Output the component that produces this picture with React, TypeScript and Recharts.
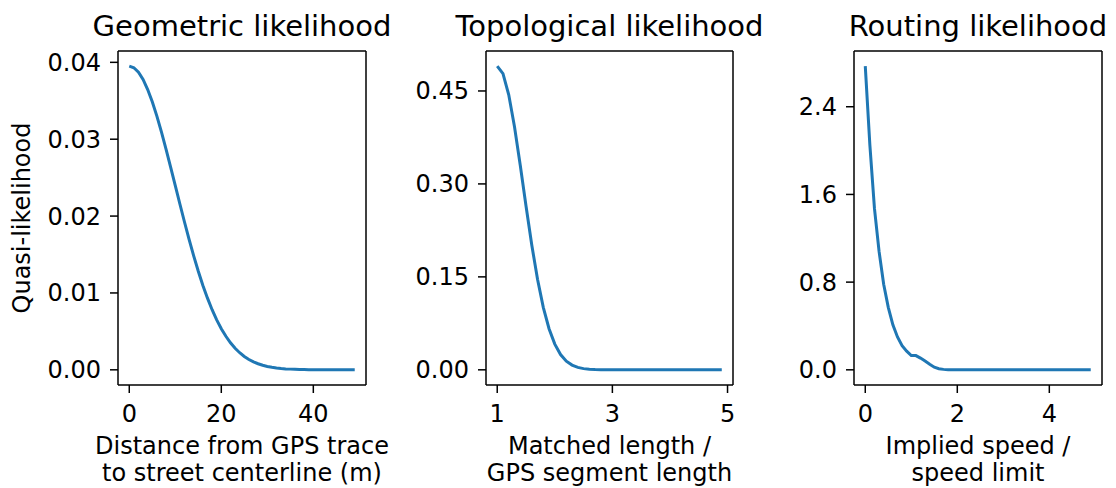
import { Line, LineChart, ReferenceLine, XAxis, YAxis } from "recharts";

// geometric: distance (m) 0..49
const geoX = Array.from({ length: 50 }, (_, i) => i);
const geoY = [
  0.0395, 0.0393, 0.03872, 0.03777, 0.03646, 0.03486, 0.033, 0.03092, 0.02869,
  0.02635, 0.02396, 0.02157, 0.01923, 0.01697, 0.01483, 0.01282, 0.01098,
  0.00932, 0.00782, 0.0065, 0.00535, 0.00436, 0.00351, 0.0028, 0.00222,
  0.00173, 0.00134, 0.00103, 0.00079, 0.00059, 0.00044, 0.00033, 0.00024,
  0.00017, 0.00012, 0.00009, 0.00006, 0.00004, 0.00003, 0.00002, 0.00001,
  0.00001, 0, 0, 0, 0, 0, 0, 0, 0,
];

// topological: matched / gps length, 1.0..4.9
const topoX = [
  1.0, 1.1, 1.2, 1.3, 1.4, 1.5, 1.6, 1.7, 1.8, 1.9, 2.0, 2.1, 2.2, 2.3, 2.4,
  2.5, 2.6, 2.7, 2.8, 2.9, 3.0, 3.1, 3.2, 3.3, 3.4, 3.5, 3.6, 3.7, 3.8, 3.9,
  4.0, 4.1, 4.2, 4.3, 4.4, 4.5, 4.6, 4.7, 4.8, 4.9,
];
const topoY = [
  0.49, 0.478, 0.4439, 0.3923, 0.3301, 0.2643, 0.2014, 0.1461, 0.1009, 0.0663,
  0.0415, 0.0247, 0.014, 0.0076, 0.0039, 0.0019, 0.0009, 0.0004, 0.0002,
  0.0001, 0, 0, 0, 0, 0, 0, 0, 0, 0, 0, 0, 0, 0, 0, 0, 0, 0, 0, 0, 0,
];

// routing: implied speed / limit, 0.0..4.9
const routeX = [
  0.0, 0.1, 0.2, 0.3, 0.4, 0.5, 0.6, 0.7, 0.8, 0.9, 1.0, 1.1, 1.2, 1.3, 1.4,
  1.5, 1.6, 1.7, 1.8, 1.9, 2.0, 2.1, 2.2, 2.3, 2.4, 2.5, 2.6, 2.7, 2.8, 2.9,
  3.0, 3.1, 3.2, 3.3, 3.4, 3.5, 3.6, 3.7, 3.8, 3.9, 4.0, 4.1, 4.2, 4.3, 4.4,
  4.5, 4.6, 4.7, 4.8, 4.9,
];
const routeY = [
  2.77, 2.05, 1.47, 1.08, 0.78, 0.57, 0.41, 0.3, 0.22, 0.17, 0.13, 0.13, 0.107,
  0.08, 0.05, 0.024, 0.01, 0.004, 0.001, 0, 0, 0, 0, 0, 0, 0, 0, 0, 0, 0, 0,
  0, 0, 0, 0, 0, 0, 0, 0, 0, 0, 0, 0, 0, 0, 0, 0, 0, 0, 0,
];

const titles = ["Geometric likelihood", "Topological likelihood", "Routing likelihood"];
const xLabels = [
  ["Distance from GPS trace", "to street centerline (m)"],
  ["Matched length /", "GPS segment length"],
  ["Implied speed /", "speed limit"],
];
const yLabel = "Quasi-likelihood";

const xTicks = [
  [0, 20, 40],
  [1, 3, 5],
  [0, 2, 4],
];
const yTicks = [
  [0, 0.01, 0.02, 0.03, 0.04],
  [0, 0.15, 0.3, 0.45],
  [0, 0.8, 1.6, 2.4],
];
const yDecimals = [2, 2, 1];

const FONT = "DejaVu Sans";
const BLUE = "#1f77b4";
const FS = 24;
const TITLE_FS = 29;

// matplotlib-like 5% autoscale margin
function pad(vals: number[]): [number, number] {
  const lo = Math.min(...vals);
  const hi = Math.max(...vals);
  const m = (hi - lo) * 0.05;
  return [lo - m, hi + m];
}

const panels = [
  { left: 0, width: 380, yw: 118, right: 14, xs: geoX, ys: geoY },
  { left: 380, width: 380, yw: 106, right: 27, xs: topoX, ys: topoY },
  { left: 760, width: 356, yw: 94, right: 14, xs: routeX, ys: routeY },
];

const TOP = 51;
const BOTTOM = 385;
const H = 488;

function Panel({ idx }: { idx: number }) {
  const p = panels[idx];
  const data = p.xs.map((x, i) => ({ x, y: p.ys[i] }));
  const xd = pad(p.xs);
  const yd = pad(p.ys);
  const tickStyle = { fill: "#000", fontSize: FS, fontFamily: FONT };
  const line = { stroke: "#000", strokeWidth: 1.5 };
  return (
    <div style={{ position: "absolute", left: p.left, top: 0 }}>
      <LineChart
        width={p.width}
        height={H}
        data={data}
        margin={{ top: TOP, right: p.right, bottom: 0, left: 0 }}
      >
        <XAxis
          dataKey="x"
          type="number"
          domain={xd}
          allowDataOverflow
          ticks={xTicks[idx]}
          height={H - BOTTOM}
          tick={tickStyle}
          tickSize={8}
          tickMargin={12}
          tickLine={line}
          axisLine={line}
        />
        <YAxis
          type="number"
          domain={yd}
          allowDataOverflow
          ticks={yTicks[idx]}
          width={p.yw}
          tick={tickStyle}
          tickSize={8}
          tickMargin={9}
          tickLine={line}
          axisLine={line}
          tickFormatter={(v: number) => v.toFixed(yDecimals[idx])}
        />
        {/* top and right spines */}
        <ReferenceLine y={yd[1]} stroke="#000" strokeWidth={1.5} />
        <ReferenceLine x={xd[1]} stroke="#000" strokeWidth={1.5} />
        <Line
          dataKey="y"
          type="linear"
          stroke={BLUE}
          strokeWidth={3}
          dot={false}
          isAnimationActive={false}
        />
      </LineChart>
    </div>
  );
}

export default function App() {
  const centers = panels.map(
    (p) => p.left + p.yw + (p.width - p.yw - p.right) / 2
  );
  return (
    <div
      style={{
        position: "absolute",
        left: 0,
        top: 0,
        width: 1116,
        height: H,
        background: "#fff",
        fontFamily: FONT,
      }}
    >
      {panels.map((_, i) => (
        <Panel key={i} idx={i} />
      ))}
      <svg
        width={1116}
        height={H}
        style={{ position: "absolute", left: 0, top: 0, pointerEvents: "none" }}
        fontFamily={FONT}
      >
        {titles.map((t, i) => (
          <text key={t} x={centers[i]} y={36} fontSize={TITLE_FS} textAnchor="middle" fill="#000">
            {t}
          </text>
        ))}
        {xLabels.map((lines, i) =>
          lines.map((l, j) => (
            <text
              key={l}
              x={centers[i]}
              y={454 + j * 27}
              fontSize={FS}
              textAnchor="middle"
              fill="#000"
            >
              {l}
            </text>
          ))
        )}
        <text
          x={30}
          y={218}
          fontSize={FS}
          textAnchor="middle"
          fill="#000"
          transform="rotate(-90, 30, 218)"
        >
          {yLabel}
        </text>
      </svg>
    </div>
  );
}
